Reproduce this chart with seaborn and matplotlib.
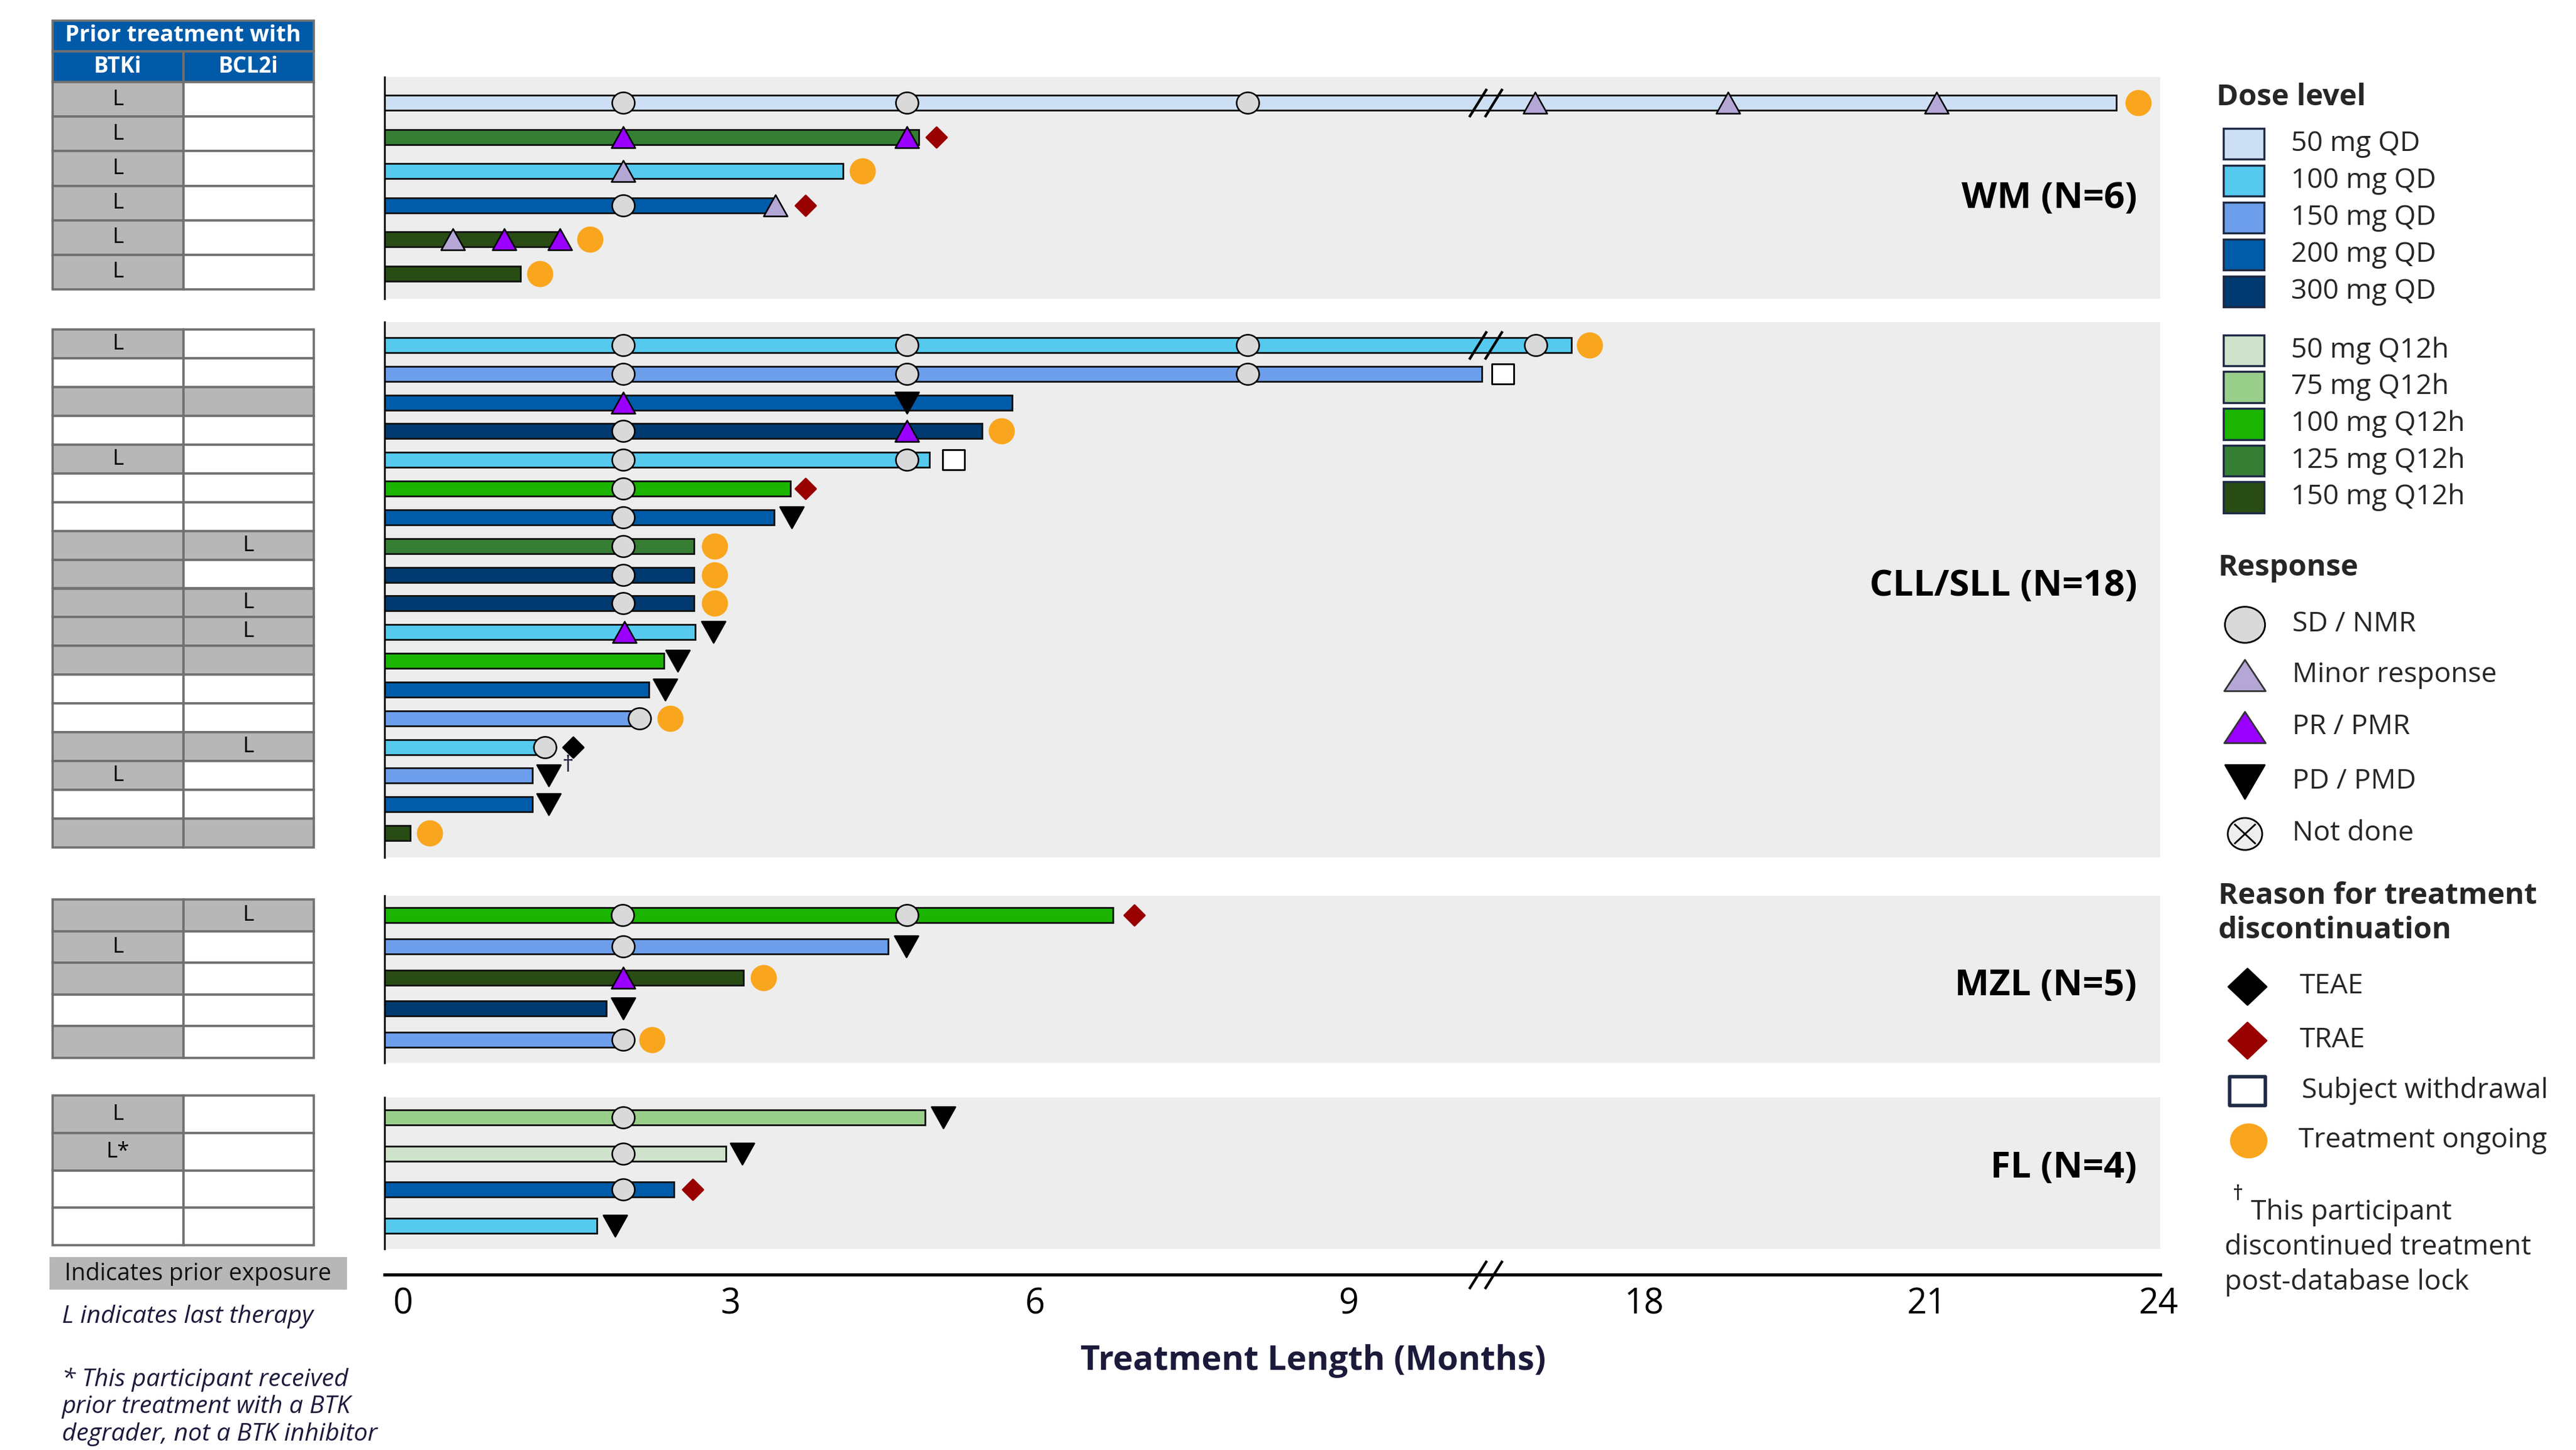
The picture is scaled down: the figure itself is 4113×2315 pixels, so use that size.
import numpy as np
import matplotlib
matplotlib.use("Agg")
import matplotlib.pyplot as plt
import matplotlib.transforms as mtransforms
from matplotlib.path import Path
from matplotlib.patches import Rectangle
import seaborn as sns

sns.set_theme(style="white")
plt.rcParams['font.family'] = ['Open Sans', 'DejaVu Sans']

# ---------------------------------------------------------------- data
dose_levels = ["50 mg QD", "100 mg QD", "150 mg QD", "200 mg QD", "300 mg QD",
               "50 mg Q12h", "75 mg Q12h", "100 mg Q12h", "125 mg Q12h", "150 mg Q12h"]
dose_colors = ["#cddff4", "#55c9ee", "#6d9eeb", "#005ca8", "#003a70",
               "#cfe2cb", "#99cf8b", "#1bb400", "#367e34", "#294c15"]

response_labels = ["SD / NMR", "Minor response", "PR / PMR", "PD / PMD", "Not done"]
reason_labels = ["TEAE", "TRAE", "Subject withdrawal", "Treatment ongoing"]

# WM
wm_dose = ["50 mg QD", "125 mg Q12h", "100 mg QD", "200 mg QD", "150 mg Q12h", "150 mg Q12h"]
wm_months = [23.51, 4.99, 4.28, 3.65, 1.64, 1.27]
wm_resp_row = [0, 0, 0, 0, 0, 0, 1, 1, 2, 3, 3, 4, 4, 4]
wm_resp_month = [2.23, 4.88, 8.06, 16.70, 18.96, 21.40, 2.23, 4.88, 2.23, 2.23, 3.65, 0.64, 1.12, 1.64]
wm_resp_type = ["SD", "SD", "SD", "MR", "MR", "MR", "PR", "PR", "MR", "SD", "MR", "MR", "PR", "PR"]
wm_end_row = [0, 1, 2, 3, 4, 5]
wm_end_month = [23.76, 5.15, 4.46, 3.93, 1.92, 1.45]
wm_end_type = ["ONG", "TRAE", "ONG", "TRAE", "ONG", "ONG"]
wm_btki = ["L", "L", "L", "L", "L", "L"]
wm_bcl2i = ["-", "-", "-", "-", "-", "-"]

# CLL/SLL
cll_dose = ["100 mg QD", "150 mg QD", "200 mg QD", "300 mg QD", "100 mg QD", "100 mg Q12h",
            "200 mg QD", "125 mg Q12h", "300 mg QD", "300 mg QD", "100 mg QD", "100 mg Q12h",
            "200 mg QD", "150 mg QD", "100 mg QD", "150 mg QD", "200 mg QD", "150 mg Q12h"]
cll_months = [17.13, 10.25, 5.86, 5.58, 5.09, 3.79, 3.64, 2.89, 2.89, 2.89,
              2.90, 2.61, 2.47, 2.34, 1.44, 1.38, 1.38, 0.24]
cll_resp_row = [0, 0, 0, 0, 1, 1, 1, 2, 2, 3, 3, 4, 4, 5, 6, 6, 7, 8, 9,
                10, 10, 11, 12, 13, 14, 15, 16]
cll_resp_month = [2.23, 4.88, 8.06, 16.71, 2.23, 4.88, 8.06, 2.23, 4.88, 2.23, 4.88,
                  2.23, 4.88, 2.23, 2.23, 3.80, 2.23, 2.23, 2.23,
                  2.24, 3.07, 2.74, 2.62, 2.38, 1.50, 1.53, 1.53]
cll_resp_type = ["SD", "SD", "SD", "SD", "SD", "SD", "SD", "PR", "PD", "SD", "PR",
                 "SD", "SD", "SD", "SD", "PD", "SD", "SD", "SD",
                 "PR", "PD", "PD", "PD", "SD", "SD", "PD", "PD"]
cll_end_row = [0, 1, 3, 4, 5, 7, 8, 9, 13, 14, 17]
cll_end_month = [17.34, 10.44, 5.76, 5.31, 3.93, 3.08, 3.08, 3.08, 2.67, 1.76, 0.42]
cll_end_type = ["ONG", "WD", "ONG", "WD", "TRAE", "ONG", "ONG", "ONG", "ONG", "TEAE", "ONG"]
cll_btki = ["L", "-", "E", "-", "L", "-", "-", "E", "E", "E", "E", "E", "-", "-", "E", "L", "-", "E"]
cll_bcl2i = ["-", "-", "E", "-", "-", "-", "-", "L", "-", "L", "L", "E", "-", "-", "L", "-", "-", "E"]

# MZL
mzl_dose = ["100 mg Q12h", "150 mg QD", "150 mg Q12h", "300 mg QD", "150 mg QD"]
mzl_months = [6.80, 4.70, 3.35, 2.07, 2.16]
mzl_resp_row = [0, 0, 1, 1, 2, 3, 4]
mzl_resp_month = [2.22, 4.88, 2.23, 4.87, 2.23, 2.23, 2.23]
mzl_resp_type = ["SD", "SD", "SD", "PD", "PR", "PD", "SD"]
mzl_end_row = [0, 2, 4]
mzl_end_month = [7.00, 3.54, 2.50]
mzl_end_type = ["TRAE", "ONG", "ONG"]
mzl_btki = ["E", "L", "E", "-", "E"]
mzl_bcl2i = ["L", "-", "-", "-", "-"]

# FL
fl_dose = ["75 mg Q12h", "50 mg Q12h", "200 mg QD", "100 mg QD"]
fl_months = [5.05, 3.19, 2.70, 1.98]
fl_resp_row = [0, 0, 1, 1, 2, 3]
fl_resp_month = [2.23, 5.22, 2.23, 3.34, 2.23, 2.15]
fl_resp_type = ["SD", "PD", "SD", "PD", "SD", "PD"]
fl_end_row = [2]
fl_end_month = [2.88]
fl_end_type = ["TRAE"]
fl_btki = ["L", "L*", "-", "-"]
fl_bcl2i = ["-", "-", "-", "-"]

x_ticks = [0, 3, 6, 9, 18, 21, 24]
axis_break = 10.28      # position of the // break
dagger_month, dagger_row = 1.76, 14

# ---------------------------------------------------------------- styles
W, H, DPI = 4113, 2315, 200
PX = 72.0 / DPI  # pixels -> points
NAVY = "#1b1a3a"
GRAY = "#b7b7b7"
PANEL = "#ededed"

B1, B2, K = 10.6, 16.52, 52.0 / 65.2


def fwd(m):
    m = np.asarray(m, dtype=float)
    return np.where(m <= B1, m, B1 + (m - B2) * K)


def inv(u):
    u = np.asarray(u, dtype=float)
    return np.where(u <= B1, u, B2 + (u - B1) / K)


def ellipse(rx=1.0, ry=1.0):
    c = Path.unit_circle()
    return Path(c.vertices * np.array([rx, ry]), c.codes)


def triangle(h, up=True):
    s = 1 if up else -1
    return Path([(-1, -s * h), (1, -s * h), (0, s * h), (-1, -s * h)],
                [Path.MOVETO, Path.LINETO, Path.LINETO, Path.CLOSEPOLY])


def diamond(w=1.0, h=1.0):
    return Path([(0, h), (w, 0), (0, -h), (-w, 0), (0, h)],
                [Path.MOVETO, Path.LINETO, Path.LINETO, Path.LINETO, Path.CLOSEPOLY])


def box(w=1.0, h=1.0):
    return Path([(-w, -h), (w, -h), (w, h), (-w, h), (-w, -h)],
                [Path.MOVETO, Path.LINETO, Path.LINETO, Path.LINETO, Path.CLOSEPOLY])


BREAK = Path([(-26.5, -22.5), (1.5, 22.5), (-1.5, -22.5), (26.5, 22.5)],
             [Path.MOVETO, Path.LINETO, Path.MOVETO, Path.LINETO])
xc = 0.62
NOTDONE = Path.make_compound_path(
    ellipse(1.0, 0.93),
    Path([(-xc, -xc * 0.93), (xc, xc * 0.93), (-xc, xc * 0.93), (xc, -xc * 0.93)],
         [Path.MOVETO, Path.LINETO, Path.MOVETO, Path.LINETO]))

RESP = {  # marker, face, size(px)
    "SD": (ellipse(1.0, 0.95), "#d9d9d9", 36),
    "MR": (triangle(0.895), "#b4a7d6", 38),
    "PR": (triangle(0.895), "#9900ff", 38),
    "PD": (triangle(0.895, up=False), "black", 38),
}
END = {
    "TEAE": (diamond(1.0, 1.0), "black", "black", 33),
    "TRAE": (diamond(1.0, 1.0), "#990000", "#990000", 33),
    "WD": (box(1.0, 0.886), "white", "black", 35),
    "ONG": (ellipse(1.0, 1.0), "#f9a61e", "#f9a61e", 39),
}
color_of = dict(zip(dose_levels, dose_colors))

fig = plt.figure(figsize=(W / DPI, H / DPI), dpi=DPI)


def rect(x0, y0, x1, y1):
    return [x0 / W, 1 - y1 / H, (x1 - x0) / W, (y1 - y0) / H]


# overlay axes in pixel coordinates for legend & notes
ov = fig.add_axes([0, 0, 1, 1])
ov.set_xlim(0, W)
ov.set_ylim(H, 0)
ov.axis("off")

X0, X1 = 614, 3449
XMAX = 24.02


def panel(box_px, rows_px, dose, months, r_row, r_month, r_type, e_row, e_month, e_type,
          label, label_y, breaks=False):
    top, bot = box_px
    first, last = rows_px
    n = len(dose)
    ax = fig.add_axes(rect(X0, top, X1, bot))
    ax.set_xscale("function", functions=(fwd, inv))
    sp = (last - first) / (n - 1)
    ax.set_facecolor(PANEL)
    rows = np.arange(n)
    ax.barh(rows, months, left=0, height=24 / sp, color=[color_of[d] for d in dose],
            edgecolor="#111111", linewidth=1.0, zorder=2)
    if breaks:
        ax.plot([axis_break], [0], ls="", marker=BREAK, ms=53 * PX, mec="black",
                mew=1.5, zorder=3)
    r_row = np.asarray(r_row)
    r_month = np.asarray(r_month)
    r_type = np.asarray(r_type)
    for key, (mk, fc, sz) in RESP.items():
        sel = r_type == key
        if sel.any():
            sns.scatterplot(x=r_month[sel], y=r_row[sel], ax=ax, marker=mk, s=(sz * PX) ** 2,
                            color=fc, edgecolor="black", linewidth=0.9, zorder=4, legend=False)
    e_row = np.asarray(e_row)
    e_month = np.asarray(e_month)
    e_type = np.asarray(e_type)
    for key, (mk, fc, ec, sz) in END.items():
        sel = e_type == key
        if sel.any():
            sns.scatterplot(x=e_month[sel], y=e_row[sel], ax=ax, marker=mk, s=(sz * PX) ** 2,
                            color=fc, edgecolor=ec, linewidth=1.0, zorder=4, legend=False)
    ax.set_xlim(0, XMAX)
    ax.set_ylim((n - 1) + (bot - last) / sp, -(first - top) / sp)
    for s in ["top", "right", "bottom"]:
        ax.spines[s].set_visible(False)
    ax.spines["left"].set_color("black")
    ax.spines["left"].set_linewidth(1.0)
    ax.set_xticks([])
    ax.set_yticks([])
    ax.set_xlabel("")
    ax.set_ylabel("")
    ax.text(0.987, label_y, label, transform=ax.transAxes, ha="right", va="center",
            fontsize=21, fontweight="bold", color="black")
    return ax


ax_wm = panel((123, 477), (164, 437), wm_dose, wm_months, wm_resp_row, wm_resp_month, wm_resp_type,
              wm_end_row, wm_end_month, wm_end_type, "WM (N=6)", 0.452, breaks=True)
ax_cll = panel((514, 1369), (551, 1330), cll_dose, cll_months, cll_resp_row, cll_resp_month,
               cll_resp_type, cll_end_row, cll_end_month, cll_end_type, "CLL/SLL (N=18)", 0.506,
               breaks=True)
ax_cll.annotate("\u2020", xy=(dagger_month, dagger_row), xytext=(-3, -11), textcoords="offset points",
                ha="center", va="center", fontsize=13, color=NAVY, zorder=5)
ax_mzl = panel((1430, 1697), (1461, 1660), mzl_dose, mzl_months, mzl_resp_row, mzl_resp_month,
               mzl_resp_type, mzl_end_row, mzl_end_month, mzl_end_type, "MZL (N=5)", 0.461)
ax_fl = panel((1752, 1994), (1784, 1957), fl_dose, fl_months, fl_resp_row, fl_resp_month,
              fl_resp_type, fl_end_row, fl_end_month, fl_end_type, "FL (N=4)", 0.533)

# x axis
axx = fig.add_axes(rect(X0, 2000, X1, 2035))
axx.set_xscale("function", functions=(fwd, inv))
axx.set_xlim(0, XMAX)
axx.patch.set_visible(False)
for s in ["top", "right", "left"]:
    axx.spines[s].set_visible(False)
axx.spines["bottom"].set_linewidth(1.8)
axx.spines["bottom"].set_color("black")
axx.set_yticks([])
axx.set_xticks(x_ticks)
axx.set_xticklabels([str(t) for t in x_ticks])
axx.tick_params(axis="x", length=0, pad=7, labelsize=20, colors="black")
# hand-placed label nudges as in the source graphic (pixels)
label_nudge = [29, 39, 13, 0, -3, 39, 0]
for lbl, dx in zip(axx.get_xticklabels(), label_nudge):
    lbl.set_transform(lbl.get_transform() + mtransforms.Affine2D().translate(dx, 0))
axx.plot([axis_break], [0], ls="", marker=BREAK, ms=53 * PX, mec="black", mew=1.5,
         transform=axx.get_xaxis_transform(), clip_on=False, zorder=5)
axx.set_xlabel("Treatment Length (Months)", fontsize=19.5, fontweight="bold", color=NAVY)
axx.xaxis.set_label_coords((2097 - X0) / (X1 - X0), -(2146 - 2035) / 35.0)

# ---------------------------------------------------------------- tables
TX0, TX1 = 84, 501
EDGE = "#707070"


def draw_table(box_px, btki, bcl2i):
    top, bot = box_px
    ax = fig.add_axes(rect(TX0, top, TX1, bot))
    n = len(btki)
    rows = np.arange(n)
    for col, vals in enumerate([btki, bcl2i]):
        fills = [GRAY if v != "-" else "white" for v in vals]
        bars = ax.barh(rows, 1, left=col, height=1, color=fills, edgecolor=EDGE, linewidth=1.3)
        for p in bars:
            p.set_clip_on(False)
        for r, v in zip(rows, vals):
            if v.startswith("L"):
                ax.text(col + 0.5, r, v, ha="center", va="center", fontsize=12.5, color="black")
    ax.set_xlim(0, 2)
    ax.set_ylim(n - 0.5, -0.5)
    ax.axis("off")
    return ax


# header
axh = fig.add_axes(rect(TX0, 33, TX1, 131))
hb = axh.barh([0], [2], left=0, height=1, color="#005aa8", edgecolor=EDGE, linewidth=1.3)
hb2 = axh.barh([1, 1], [1, 1], left=[0, 1], height=1, color="#005aa8", edgecolor=EDGE, linewidth=1.3)
for p in list(hb) + list(hb2):
    p.set_clip_on(False)
axh.text(1.0, 0, "Prior treatment with", ha="center", va="center", fontsize=13,
         fontweight="bold", color="white")
axh.text(0.5, 1, "BTKi", ha="center", va="center", fontsize=12.5, fontweight="bold", color="white")
axh.text(1.5, 1, "BCL2i", ha="center", va="center", fontsize=12.5, fontweight="bold", color="white")
axh.set_xlim(0, 2)
axh.set_ylim(1.5, -0.5)
axh.axis("off")

draw_table((131, 462), wm_btki, wm_bcl2i)
draw_table((526, 1353), cll_btki, cll_bcl2i)
draw_table((1436, 1689), mzl_btki, mzl_bcl2i)
draw_table((1749, 1988), fl_btki, fl_bcl2i)

ov.add_patch(Rectangle((79, 2007), 475, 52, facecolor=GRAY, edgecolor="none"))
ov.text(316, 2034, "Indicates prior exposure", ha="center", va="center", fontsize=13.5, color="#111111")
ov.text(99, 2102, "L indicates last therapy", ha="left", va="center", fontsize=14.2,
        style="italic", color=NAVY)
ov.text(99, 2246, "* This participant received\nprior treatment with a BTK\ndegrader, not a BTK inhibitor",
        ha="left", va="center", fontsize=14.2, style="italic", color=NAVY, linespacing=1.18)

# ---------------------------------------------------------------- legend
LEG_EDGE = "#1f2a44"
ov.text(3539, 155, "Dose level", ha="left", va="center", fontsize=17, fontweight="bold")
dose_y = [229.5 + i * 59.0 for i in range(5)] + [559.6 + i * 58.6 for i in range(5)]
for lab, col, yy in zip(dose_levels, dose_colors, dose_y):
    ov.add_patch(Rectangle((3550, yy - 24.75), 65, 49.5, facecolor=col, edgecolor=LEG_EDGE, linewidth=1.2))
    ov.text(3658, yy, lab, ha="left", va="center", fontsize=16)

ov.text(3542, 906, "Response", ha="left", va="center", fontsize=17, fontweight="bold")
resp_y = [997, 1078, 1161, 1248, 1331]
resp_mk = [
    (ellipse(1.0, 0.9), "#d9d9d9", "black", 64),
    (triangle(0.757), "#b4a7d6", "#333333", 66),
    (triangle(0.757), "#9900ff", "#333333", 66),
    (triangle(0.857, up=False), "black", "black", 63),
    (NOTDONE, "#eeeeee", "black", 55),
]
for lab, (mk, fc, ec, sz), yy in zip(response_labels, resp_mk, resp_y):
    ov.scatter([3584], [yy], marker=mk, s=(sz * PX) ** 2, c=fc, edgecolors=ec, linewidths=1.0)
    ov.text(3660, yy, lab, ha="left", va="center", fontsize=16)

ov.text(3542, 1458, "Reason for treatment\ndiscontinuation", ha="left", va="center", fontsize=17,
        fontweight="bold", linespacing=1.2)
reason_y = [1575, 1661, 1742, 1821]
reason_mk = [
    (diamond(1.0, 0.95), "black", "black", 61, 3588),
    (diamond(1.0, 0.95), "#990000", "#990000", 61, 3588),
    (box(1.0, 0.807), "white", LEG_EDGE, 57, 3588),
    (ellipse(1.0, 0.93), "#f9a61e", "#f9a61e", 57, 3590),
]
reason_tx = [3672, 3672, 3675, 3670]
for lab, (mk, fc, ec, sz, xx), yy, tx in zip(reason_labels, reason_mk, reason_y, reason_tx):
    ov.scatter([xx], [yy], marker=mk, s=(sz * PX) ** 2, c=fc, edgecolors=ec,
               linewidths=2.0 if fc == "white" else 1.0)
    ov.text(tx, yy, lab, ha="left", va="center", fontsize=16)

ov.text(3573, 1907, "\u2020", ha="center", va="center", fontsize=12, color="black")
ov.text(3594, 1936, "This participant", ha="left", va="center", fontsize=16)
ov.text(3552, 1992, "discontinued treatment", ha="left", va="center", fontsize=16)
ov.text(3552, 2047, "post-database lock", ha="left", va="center", fontsize=16)

fig.savefig("out.png", dpi=DPI, facecolor="white")
